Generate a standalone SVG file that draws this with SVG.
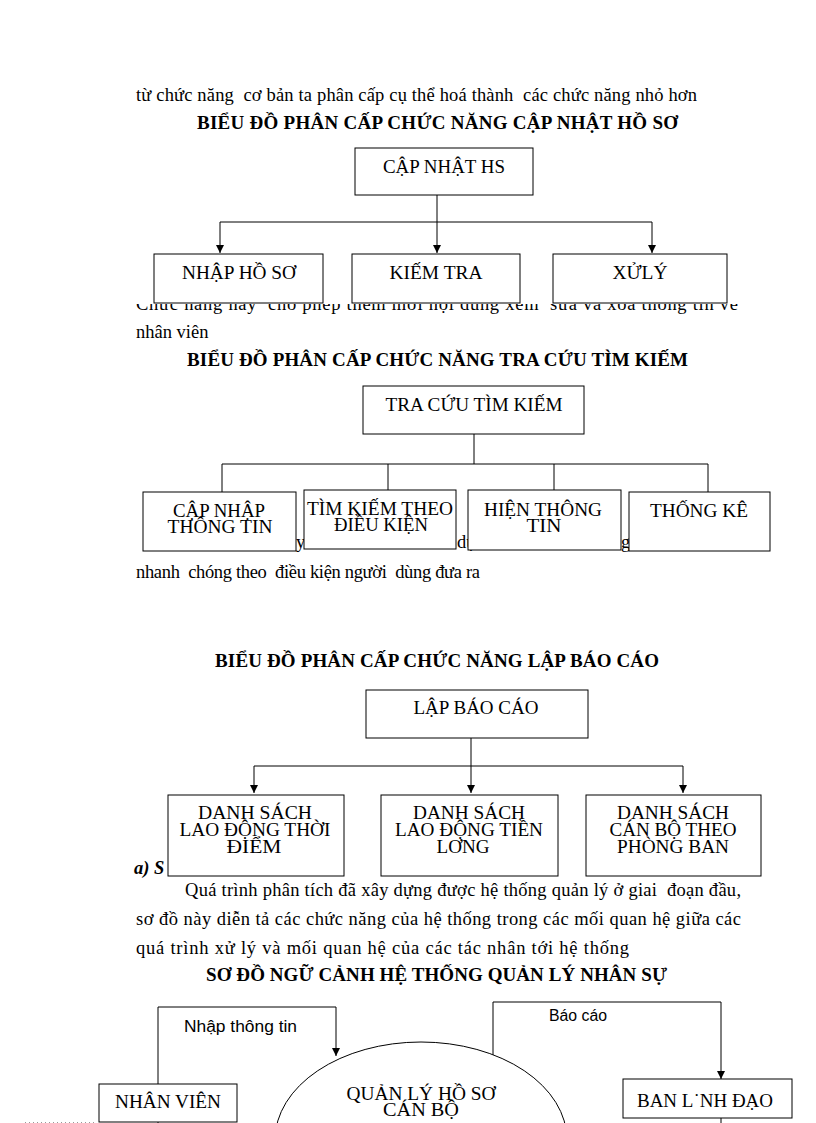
<svg xmlns="http://www.w3.org/2000/svg" width="816" height="1123" viewBox="0 0 816 1123">
<style>
  text { font-family: "Liberation Serif", "Times New Roman", serif; fill: #000; white-space: pre; }
  .p { font-size: 18.5px; }
  .h { font-size: 19px; font-weight: bold; }
  .l { font-size: 19px; text-anchor: middle; }
  .s { font-family: "Liberation Sans", Arial, sans-serif; font-size: 16px; }
  .box { fill: #fff; stroke: #000; stroke-width: 1; }
  .c { fill: none; stroke: #000; stroke-width: 1; }
  .a { marker-end: url(#arr); }
</style>
<defs>
  <marker id="arr" viewBox="0 0 8 8" refX="8" refY="4" markerWidth="8" markerHeight="8" markerUnits="userSpaceOnUse" orient="auto">
    <path d="M0,0 L8,4 L0,8 z" fill="#000"/>
  </marker>
  <clipPath id="clip1"><rect x="0" y="304" width="816" height="20"/></clipPath>
</defs>
<rect width="816" height="1123" fill="#fff"/>

<!-- Section 1 -->
<text class="p" x="136" y="101" textLength="561" lengthAdjust="spacing">từ chức năng  cơ bản ta phân cấp cụ thể hoá thành  các chức năng nhỏ hơn</text>
<text class="h" x="197" y="129" textLength="481" lengthAdjust="spacing">BIỂU ĐỒ PHÂN CẤP CHỨC NĂNG CẬP NHẬT HỒ SƠ</text>
<text class="p" x="136" y="310" textLength="602" lengthAdjust="spacing" clip-path="url(#clip1)">Chức năng này  cho phép thêm mới nội dung xem  sửa và xoá thông tin về</text>
<text class="p" x="136" y="338">nhân viên</text>

<g id="connectors1">
  <path class="c a" d="M437,195 V253"/>
  <path class="c" d="M220,222 H652"/>
  <path class="c a" d="M220,222 V253"/>
  <path class="c a" d="M652,222 V253"/>
</g>
<g id="n-capnhat"><rect class="box" x="355" y="148" width="178" height="47"/><text class="l" x="444" y="173" textLength="122" lengthAdjust="spacingAndGlyphs">CẬP NHẬT HS</text></g>
<g id="n-nhaphoso"><rect class="box" x="154" y="254" width="169" height="49" fill-opacity="0"/><text class="l" x="239" y="279" textLength="114" lengthAdjust="spacingAndGlyphs">NHẬP HỒ SƠ</text></g>
<g id="n-kiemtra"><rect class="box" x="352" y="254" width="168" height="49" fill-opacity="0"/><text class="l" x="436" y="279" textLength="93" lengthAdjust="spacingAndGlyphs">KIẾM TRA</text></g>
<g id="n-xuly"><rect class="box" x="553" y="254" width="174" height="49" fill-opacity="0"/><text class="l" x="640" y="279" textLength="55" lengthAdjust="spacingAndGlyphs">XỬLÝ</text></g>

<!-- Section 2 -->
<text class="h" x="187" y="366" textLength="501" lengthAdjust="spacing">BIỂU ĐỒ PHÂN CẤP CHỨC NĂNG TRA CỨU TÌM KIẾM</text>
<text class="p" x="296" y="548">y</text>
<text class="p" x="457" y="548">dụ</text>
<text class="p" x="621" y="548">g</text>
<text class="p" x="136" y="578" textLength="344" lengthAdjust="spacing">nhanh  chóng theo  điều kiện người  dùng đưa ra</text>

<g id="connectors2">
  <path class="c" d="M474,434 V464"/>
  <path class="c" d="M222,464 H708"/>
  <path class="c" d="M222,464 V492"/>
  <path class="c" d="M388,464 V490"/>
  <path class="c" d="M554,464 V490"/>
  <path class="c" d="M708,464 V492"/>
</g>
<g id="n-tracuu"><rect class="box" x="363" y="386" width="221" height="48"/><text class="l" x="474" y="411" textLength="177" lengthAdjust="spacingAndGlyphs">TRA CỨU TÌM KIẾM</text></g>
<g id="n-capnhap"><rect class="box" x="143" y="492" width="153" height="59"/><text class="l" x="219" y="517" textLength="92" lengthAdjust="spacingAndGlyphs">CẬP NHẬP</text><text class="l" x="220" y="533" textLength="105" lengthAdjust="spacingAndGlyphs">THÔNG TIN</text></g>
<g id="n-timkiem"><rect class="box" x="304" y="490" width="152" height="59"/><text class="l" x="380" y="515" textLength="146" lengthAdjust="spacingAndGlyphs">TÌM KIẾM THEO</text><text class="l" x="381" y="531" textLength="94" lengthAdjust="spacingAndGlyphs">ĐIỀU KIỆN</text></g>
<g id="n-hien"><rect class="box" x="468" y="490" width="153" height="60"/><text class="l" x="543" y="516" textLength="118" lengthAdjust="spacingAndGlyphs">HIỆN THÔNG</text><text class="l" x="544" y="532" textLength="35" lengthAdjust="spacingAndGlyphs">TIN</text></g>
<g id="n-thongke"><rect class="box" x="629" y="492" width="141" height="59"/><text class="l" x="699" y="517" textLength="98" lengthAdjust="spacingAndGlyphs">THỐNG KÊ</text></g>

<!-- Section 3 -->
<text class="h" x="215" y="667" textLength="444" lengthAdjust="spacing">BIỂU ĐỒ PHÂN CẤP CHỨC NĂNG LẬP BÁO CÁO</text>
<text class="p" x="134" y="874" font-size="19" font-weight="bold" font-style="italic">a) S</text>
<g id="connectors3">
  <path class="c a" d="M471,738 V793"/>
  <path class="c" d="M254,766 H683"/>
  <path class="c a" d="M254,766 V793"/>
  <path class="c a" d="M683,766 V793"/>
</g>
<g id="n-lapbaocao"><rect class="box" x="366" y="690" width="222" height="48"/><text class="l" x="476" y="714" textLength="125" lengthAdjust="spacingAndGlyphs">LẬP BÁO CÁO</text></g>
<g id="n-ds1"><rect class="box" x="168" y="795" width="176" height="81"/><text class="l" x="255" y="819" textLength="114" lengthAdjust="spacingAndGlyphs">DANH SÁCH</text><text class="l" x="255" y="836" textLength="151" lengthAdjust="spacingAndGlyphs">LAO ĐỘNG THỜI</text><text class="l" x="254" y="853" textLength="55" lengthAdjust="spacingAndGlyphs">ĐIỂM</text></g>
<g id="n-ds2"><rect class="box" x="381" y="795" width="177" height="81"/><text class="l" x="469" y="819" textLength="112" lengthAdjust="spacingAndGlyphs">DANH SÁCH</text><text class="l" x="469" y="836" textLength="148" lengthAdjust="spacingAndGlyphs">LAO ĐỘNG TIỀN</text><text class="l" x="463" y="853" textLength="53" lengthAdjust="spacingAndGlyphs">LƠNG</text></g>
<g id="n-ds3"><rect class="box" x="586" y="795" width="175" height="81"/><text class="l" x="673" y="819" textLength="112" lengthAdjust="spacingAndGlyphs">DANH SÁCH</text><text class="l" x="673" y="836" textLength="127" lengthAdjust="spacingAndGlyphs">CÁN BỘ THEO</text><text class="l" x="673" y="853" textLength="112" lengthAdjust="spacingAndGlyphs">PHÒNG BAN</text></g>

<text class="p" x="185" y="896" textLength="556" lengthAdjust="spacing">Quá trình phân tích đã xây dựng được hệ thống quản lý ở giai  đoạn đầu,</text>
<text class="p" x="136" y="925" textLength="605" lengthAdjust="spacing">sơ đồ này diễn tả các chức năng của hệ thống trong các mối quan hệ giữa các</text>
<text class="p" x="136" y="954" textLength="493" lengthAdjust="spacing">quá trình xử lý và mối quan hệ của các tác nhân tới hệ thống</text>
<text class="h" x="206" y="981" textLength="461" lengthAdjust="spacing">SƠ ĐỒ NGỮ CẢNH HỆ THỐNG QUẢN LÝ NHÂN SỰ</text>

<!-- Section 4 -->
<g id="connectors4">
  <path class="c a" d="M158,1084 V1007 H336 V1056"/>
  <path class="c a" d="M493,1055 V1002 H721 V1079"/>
  <path class="c" d="M158,1122 V1123"/>
  <path class="c" d="M721,1118 V1123"/>
  <text class="s" x="184" y="1032" textLength="113" lengthAdjust="spacingAndGlyphs">Nhập thông tin</text>
  <text class="s" x="549" y="1021" textLength="58" lengthAdjust="spacingAndGlyphs">Báo cáo</text>
</g>
<line x1="25" y1="1122.5" x2="94" y2="1122.5" stroke="#999" stroke-width="1" stroke-dasharray="1,3"/>
<g id="n-nhanvien"><rect class="box" x="99" y="1084" width="138" height="38"/><text class="l" x="168" y="1108" textLength="106" lengthAdjust="spacingAndGlyphs">NHÂN VIÊN</text></g>
<g id="n-quanly"><ellipse class="box" cx="421" cy="1140" rx="146" ry="98"/><text class="l" x="421" y="1100" textLength="149" lengthAdjust="spacingAndGlyphs">QUẢN LÝ HỒ SƠ</text><text class="l" x="421" y="1116" textLength="76" lengthAdjust="spacingAndGlyphs">CÁN BỘ</text></g>
<g id="n-banlanhdao"><rect class="box" x="623" y="1079" width="169" height="39"/><text class="l" x="705" y="1107" textLength="136" lengthAdjust="spacingAndGlyphs">BAN L˙NH ĐẠO</text></g>
</svg>
